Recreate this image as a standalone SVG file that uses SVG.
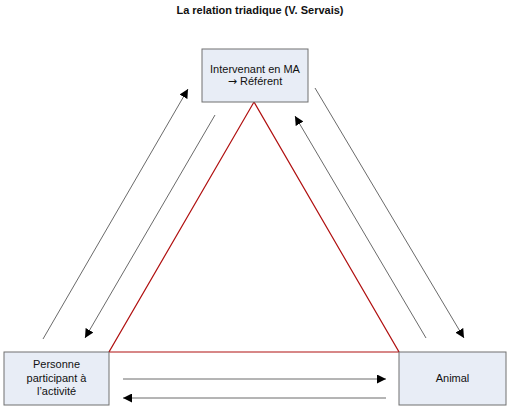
<svg xmlns="http://www.w3.org/2000/svg" width="512" height="415" viewBox="0 0 512 415">
<style>
.box{fill:#E8EDF6;stroke:#707070;stroke-width:1}
.t{font-family:"Liberation Sans",Arial,sans-serif;font-size:11px;fill:#111;text-anchor:middle}
.ar{font-family:"DejaVu Sans",sans-serif}
.title{font-family:"Liberation Sans",Arial,sans-serif;font-size:11px;font-weight:bold;fill:#111;text-anchor:middle}
.c{stroke:#444;stroke-width:0.8;fill:none;marker-end:url(#ah)}
.tri{stroke:#B01010;stroke-width:1.2;fill:none}
</style>
<defs>
<marker id="ah" viewBox="0 0 10 10" refX="10" refY="5" markerWidth="9" markerHeight="9" markerUnits="userSpaceOnUse" orient="auto">
<path d="M0,0 L10,5 L0,10 z" fill="#000"/>
</marker>
</defs>
<rect width="512" height="415" fill="#fff"/>
<text class="title" x="260" y="14">La relation triadique (V. Servais)</text>
<g id="connectors">
<polygon class="tri" points="254,102 109,352 399,352"/>
<line class="c" x1="43" y1="339" x2="188" y2="89"/>
<line class="c" x1="215" y1="115" x2="85" y2="338"/>
<line class="c" x1="426" y1="338" x2="295" y2="116"/>
<line class="c" x1="315" y1="88" x2="464" y2="338"/>
<line class="c" x1="123" y1="379" x2="386" y2="379"/>
<line class="c" x1="386" y1="398" x2="123" y2="398"/>
</g>
<g id="intervenant">
<rect class="box" x="202" y="49" width="106" height="53"/>
<text class="t" x="255" y="73">Intervenant en MA</text>
<text class="t" x="255" y="85"><tspan class="ar">→</tspan> Référent</text>
</g>
<g id="personne">
<rect class="box" x="4" y="352" width="105" height="53"/>
<text class="t" x="56.5" y="368">Personne</text>
<text class="t" x="56.5" y="381.5">participant à</text>
<text class="t" x="56.5" y="395">l’activité</text>
</g>
<g id="animal">
<rect class="box" x="399" y="352" width="107" height="53"/>
<text class="t" x="452.5" y="382">Animal</text>
</g>
</svg>
